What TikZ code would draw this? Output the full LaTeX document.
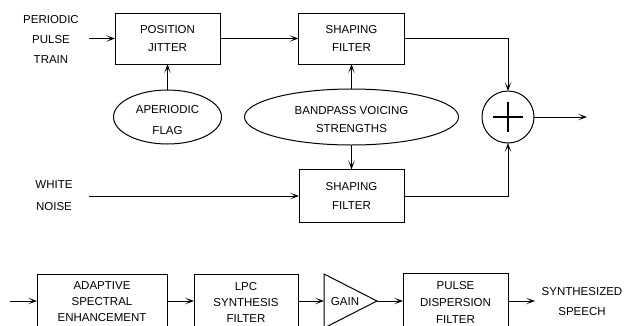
\documentclass[tikz,border=0pt]{standalone}
\usepackage{fontspec}
\setmainfont{Liberation Sans}
\usetikzlibrary{arrows.meta,shapes.geometric}
\begin{document}
\begin{tikzpicture}[x=1pt,y=-1pt,
  every node/.style={inner sep=0pt, outer sep=0pt},
  txt/.style={font=\fontsize{11.5}{#1}\selectfont, align=center},
  txt/.default=18,
  blk/.style={draw, line width=1pt},
  oval/.style={draw, ellipse, line width=1pt},
  arr/.style={line width=1pt, -{Stealth[length=9pt,width=6.5pt,inset=5pt]}},
  wire/.style={line width=1pt}
]
\useasboundingbox (0,0) rectangle (627,325);

% --- top section ---
\node[txt=20] (periodic) at (51,39) {PERIODIC\\PULSE\\TRAIN};
\coordinate (pin) at (89,38.5);
\node[blk, txt, minimum width=105pt, minimum height=51pt] (jitter) at (167.5,38.5) {POSITION\\JITTER};
\node[blk, txt, minimum width=106pt, minimum height=51pt] (sf1) at (351.5,38.5) {SHAPING\\FILTER};
\node[oval, minimum width=108pt, minimum height=54pt] (ap) at (167.5,117) {};
\node[txt=21] (apt) at (167.5,120.5) {APERIODIC\\FLAG};
\node[oval, minimum width=214pt, minimum height=56pt] (bv) at (351.5,117) {};
\node[txt] (bvt) at (351.5,119.5) {BANDPASS VOICING\\STRENGTHS};
\node[draw, circle, line width=1pt, minimum size=52pt] (sum) at (508,117) {};
\draw[line width=2.6pt] ([xshift=-15pt]sum.center) -- ([xshift=15pt]sum.center)
                        ([yshift=-15pt]sum.center) -- ([yshift=15pt]sum.center);
\coordinate (out) at (587,117);
\node[txt=22] (white) at (54,196) {WHITE\\NOISE};
\coordinate (win) at (89,196);
\node[blk, txt=19, minimum width=105pt, minimum height=53pt] (sf2) at (351.5,196) {SHAPING\\FILTER};

\draw[arr] (pin) -- (jitter.west);
\draw[arr] (jitter.east) -- (sf1.west);
\draw[arr] (ap.north) -- (jitter.south);
\draw[arr] (bv.north) -- (sf1.south);
\draw[arr] (bv.south) -- (sf2.north);
\draw[arr] (sf1.east) -| (sum.north);
\draw[arr] (sf2.east) -| (sum.south);
\draw[arr] (sum.east) -- (out);
\draw[arr] (win) -- (sf2.west);

% --- bottom section ---
\coordinate (bin) at (10,301);
\node[blk, txt=16, minimum width=130pt, minimum height=56pt] (ase) at (102,302) {ADAPTIVE\\SPECTRAL\\ENHANCEMENT};
\node[blk, txt=16, minimum width=104pt, minimum height=56pt] (lpc) at (246,302) {LPC\\SYNTHESIS\\FILTER};
\coordinate (gin) at (324,301);
\coordinate (gout) at (377,301);
\draw[wire] (324,274) -- (gout) -- (324,328) -- cycle;
\node[txt] (gain) at (345,302) {GAIN};
\node[blk, txt=17, minimum width=105pt, minimum height=58pt] (pulse) at (455.5,302) {PULSE\\DISPERSION\\FILTER};
\coordinate (bout) at (535,301);
\node[txt=20] (synth) at (582,302) {SYNTHESIZED\\SPEECH};

\draw[arr] (bin) -- (bin -| ase.west);
\draw[arr] (ase.east |- gin) -- (lpc.west |- gin);
\draw[arr] (lpc.east |- gin) -- (gin);
\draw[arr] (gout) -- (pulse.west |- gout);
\draw[arr] (pulse.east |- gout) -- (bout);
\end{tikzpicture}
\end{document}
